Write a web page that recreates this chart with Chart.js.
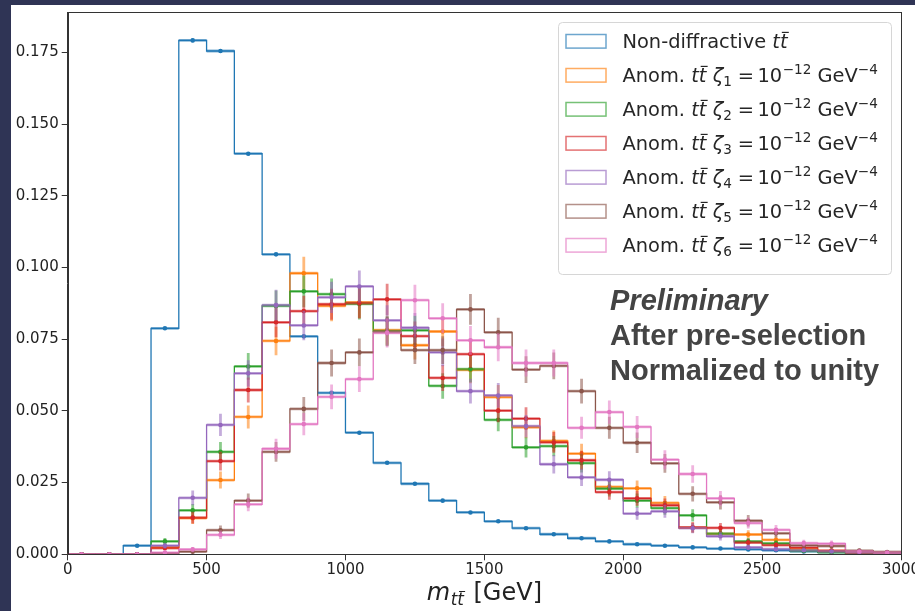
<!DOCTYPE html>
<html>
<head>
<meta charset="utf-8">
<script src="https://cdn.jsdelivr.net/npm/chart.js@4.4.1/dist/chart.umd.min.js"></script>
<style>
  html, body { margin: 0; padding: 0; background: #2f3455; width: 915px; height: 611px; overflow: hidden; }
  #frame { position: absolute; left: 11px; top: 5px; width: 904px; height: 606px; background: #fff; }
  canvas { display: block; }
</style>
</head>
<body>
<div id="frame"><canvas id="hist" width="904" height="606"></canvas></div>
<script>
// Bin edges of the m_tt histogram [GeV]
const binEdges = [0, 100, 200, 300, 400, 500, 600, 700, 800, 900, 1000, 1100, 1200, 1300, 1400, 1500,
  1600, 1700, 1800, 1900, 2000, 2100, 2200, 2300, 2400, 2500, 2600, 2700, 2800, 2900, 3000];

// Normalized bin contents
const nonDiffractive = [0, 0, 0.0030, 0.0788, 0.1792, 0.1755, 0.1397, 0.1046, 0.0760, 0.0563, 0.0424, 0.0319,
  0.0246, 0.0187, 0.0146, 0.0115, 0.0091, 0.0070, 0.0056, 0.0045, 0.0035, 0.0030, 0.0024, 0.0020, 0.0017,
  0.0014, 0.0010, 0.0008, 0.0007, 0.0003];
const zeta1 = [0, 0, 0, 0.0024, 0.0126, 0.0259, 0.0479, 0.0744, 0.0980, 0.0866, 0.0878, 0.0782, 0.0729, 0.0777,
  0.0643, 0.0548, 0.0443, 0.0395, 0.0351, 0.0235, 0.0230, 0.0179, 0.0093, 0.0071, 0.0069, 0.0050, 0.0018,
  0.0011, 0.0005, 0.0003];
const zeta2 = [0, 0, 0, 0.0045, 0.0153, 0.0357, 0.0655, 0.0866, 0.0917, 0.0907, 0.0873, 0.0778, 0.0781, 0.0587,
  0.0646, 0.0469, 0.0373, 0.0377, 0.0318, 0.0229, 0.0187, 0.0161, 0.0136, 0.0072, 0.0045, 0.0038, 0.0012,
  0.0007, 0.0003, 0.0002];
const zeta3 = [0, 0, 0, 0.0022, 0.0128, 0.0325, 0.0573, 0.0809, 0.0848, 0.0872, 0.0876, 0.0889, 0.0761, 0.0615,
  0.0698, 0.0501, 0.0473, 0.0390, 0.0328, 0.0217, 0.0195, 0.0171, 0.0094, 0.0092, 0.0041, 0.0032, 0.0023,
  0.0013, 0.0006, 0.0003];
const zeta4 = [0, 0, 0, 0.0030, 0.0197, 0.0451, 0.0631, 0.0869, 0.0798, 0.0896, 0.0934, 0.0816, 0.0790, 0.0704,
  0.0569, 0.0554, 0.0447, 0.0314, 0.0268, 0.0260, 0.0142, 0.0150, 0.0091, 0.0063, 0.0024, 0.0018, 0.0014,
  0.0010, 0.0007, 0.0003];
const zeta5 = [0, 0, 0, 0.0002, 0.0009, 0.0084, 0.0187, 0.0357, 0.0507, 0.0667, 0.0704, 0.0776, 0.0712, 0.0712,
  0.0854, 0.0774, 0.0644, 0.0657, 0.0569, 0.0441, 0.0389, 0.0317, 0.0211, 0.0181, 0.0117, 0.0073, 0.0031,
  0.0029, 0.0013, 0.0008];
const zeta6 = [0, 0, 0, 0.0006, 0.0017, 0.0068, 0.0174, 0.0368, 0.0454, 0.0549, 0.0611, 0.0772, 0.0886, 0.0823,
  0.0746, 0.0722, 0.0667, 0.0667, 0.0441, 0.0496, 0.0444, 0.0330, 0.0280, 0.0195, 0.0109, 0.0085, 0.0039,
  0.0037, 0.0010, 0.0006];

// Unweighted event counts per sample (statistical error = sqrt(v / N))
const sampleEvents = [400000, 3000, 3000, 3000, 3000, 3000, 3000];

const seriesLabels = ['Non-diffractive tt̄', 'Anom. tt̄ ζ1 = 10^-12 GeV^-4', 'Anom. tt̄ ζ2 = 10^-12 GeV^-4',
  'Anom. tt̄ ζ3 = 10^-12 GeV^-4', 'Anom. tt̄ ζ4 = 10^-12 GeV^-4', 'Anom. tt̄ ζ5 = 10^-12 GeV^-4',
  'Anom. tt̄ ζ6 = 10^-12 GeV^-4'];
const zetaIndex = [0, 1, 2, 3, 4, 5, 6];

const yTicks = [0, 0.025, 0.05, 0.075, 0.1, 0.125, 0.15, 0.175];
const xTicks = [0, 500, 1000, 1500, 2000, 2500, 3000];

const annotationLines = ['Preliminary', 'After pre-selection', 'Normalized to unity'];

const seriesValues = [nonDiffractive, zeta1, zeta2, zeta3, zeta4, zeta5, zeta6];
const seriesColors = ['#1f77b4', '#ff7f0e', '#2ca02c', '#d62728', '#9467bd', '#8c564b', '#e377c2'];

const axisColor = '#333333';
const mathFont = '"DejaVu Sans"';

// histtype="step" outline
function stepPoints(values) {
  const pts = [{ x: binEdges[0], y: 0 }];
  values.forEach((v, i) => {
    pts.push({ x: binEdges[i], y: v });
    pts.push({ x: binEdges[i + 1], y: v });
  });
  pts.push({ x: binEdges[binEdges.length - 1], y: 0 });
  return pts;
}

function hexAlpha(hex, a) {
  const n = parseInt(hex.slice(1), 16);
  return `rgba(${(n >> 16) & 255}, ${(n >> 8) & 255}, ${n & 255}, ${a})`;
}

// Draw a run of text pieces (mathtext-like)
function drawMath(ctx, x, y, segs, size, dry) {
  let cx = x;
  segs.forEach(s => {
    const fs = size * (s.scale || 1);
    ctx.font = `${s.italic ? 'italic ' : ''}${fs}px ${mathFont}`;
    cx += (s.pre || 0) * size;
    const w = ctx.measureText(s.text).width;
    if (!dry) {
      const yy = y + (s.dy || 0) * size;
      ctx.fillText(s.text, cx, yy);
      if (s.bar) {
        ctx.save();
        ctx.strokeStyle = ctx.fillStyle;
        ctx.lineWidth = Math.max(1, fs * 0.06);
        ctx.beginPath();
        ctx.moveTo(cx + fs * 0.10, yy - fs * 0.82);
        ctx.lineTo(cx + fs * 0.46, yy - fs * 0.82);
        ctx.stroke();
        ctx.restore();
      }
    }
    cx += w + (s.post || 0) * size;
  });
  return cx - x;
}

function labelSegments(i) {
  if (zetaIndex[i] === 0) {
    return [{ text: 'Non-diffractive ' }, { text: 't', italic: true }, { text: 't', italic: true, bar: true }];
  }
  return [
    { text: 'Anom. ' }, { text: 't', italic: true }, { text: 't', italic: true, bar: true },
    { text: 'ζ', italic: true, pre: 0.33 }, { text: String(zetaIndex[i]), scale: 0.7, dy: 0.2 },
    { text: '=', pre: 0.3, post: 0.18 }, { text: '10' },
    { text: '−12', scale: 0.7, dy: -0.42, pre: 0.03 }, { text: ' GeV' }, { text: '−4', scale: 0.7, dy: -0.42 }
  ];
}

const errorBarPlugin = {
  id: 'errorBars',
  afterDatasetsDraw(chart) {
    const { ctx, chartArea, scales: { x, y } } = chart;
    ctx.save();
    ctx.beginPath();
    ctx.rect(chartArea.left, chartArea.top, chartArea.right - chartArea.left, chartArea.bottom - chartArea.top);
    ctx.clip();
    seriesValues.forEach((values, s) => {
      const col = seriesColors[s];
      values.forEach((v, j) => {
        const err = Math.sqrt(v / sampleEvents[s]);
        const xc = x.getPixelForValue((binEdges[j] + binEdges[j + 1]) / 2);
        const yc = y.getPixelForValue(v);
        ctx.strokeStyle = hexAlpha(col, 0.55);
        ctx.lineWidth = 2.8;
        ctx.beginPath();
        ctx.moveTo(x.getPixelForValue(binEdges[j]), yc);
        ctx.lineTo(x.getPixelForValue(binEdges[j + 1]), yc);
        ctx.moveTo(xc, y.getPixelForValue(v - err));
        ctx.lineTo(xc, y.getPixelForValue(v + err));
        ctx.stroke();
        ctx.fillStyle = col;
        ctx.beginPath();
        ctx.arc(xc, yc, 2.3, 0, Math.PI * 2);
        ctx.fill();
      });
    });
    ctx.restore();
  }
};

const decorPlugin = {
  id: 'decor',
  afterDraw(chart) {
    const { ctx, chartArea: a } = chart;
    ctx.save();
    // frame
    ctx.strokeStyle = axisColor;
    ctx.lineWidth = 1;
    ctx.strokeRect(Math.round(a.left) + 0.5, Math.round(a.top) + 0.5,
      Math.round(a.right - a.left), Math.round(a.bottom - a.top));

    // legend
    ctx.fillStyle = 'rgba(255,255,255,0.85)';
    ctx.strokeStyle = '#d6d6d6';
    ctx.beginPath();
    ctx.roundRect(547.5, 17.5, 333, 252, 4);
    ctx.fill();
    ctx.stroke();
    const size = 19.4;
    seriesLabels.forEach((lab, i) => {
      const cy = 36.3 + i * 34;
      ctx.strokeStyle = hexAlpha(seriesColors[i], 0.65);
      ctx.lineWidth = 1.5;
      ctx.strokeRect(555, cy - 6.8, 40, 13.6);
      ctx.fillStyle = '#262626';
      ctx.textBaseline = 'alphabetic';
      ctx.textAlign = 'left';
      drawMath(ctx, 611.5, cy + 7, labelSegments(i), size);
    });

    // annotation text
    ctx.fillStyle = '#444444';
    annotationLines.forEach((t, i) => {
      ctx.font = `${i === 0 ? 'italic ' : ''}bold 29px "Liberation Sans", Arial, sans-serif`;
      ctx.fillText(t, 599, 305 + i * 35);
    });

    // x axis title
    ctx.fillStyle = '#222';
    const xs = [{ text: 'm', italic: true }, { text: 't', italic: true, scale: 0.7, dy: 0.22, pre: 0.03 },
      { text: 't', italic: true, bar: true, scale: 0.7, dy: 0.22 }, { text: ' [GeV]', pre: 0.08 }];
    const w = drawMath(ctx, 0, 0, xs, 24, true);
    drawMath(ctx, (a.left + a.right) / 2 - w / 2, 595, xs, 24);
    ctx.restore();
  }
};

const datasets = seriesValues.map((vals, i) => ({
  label: seriesLabels[i],
  data: stepPoints(vals),
  borderColor: seriesColors[i],
  borderWidth: 1.3,
  pointRadius: 0,
  fill: false,
  tension: 0,
  order: 10 - i
}));

new Chart(document.getElementById('hist'), {
  type: 'line',
  data: { datasets },
  options: {
    responsive: false,
    animation: false,
    devicePixelRatio: 1,
    events: [],
    layout: { padding: { left: 0, top: 7.3, right: 14, bottom: 0 } },
    plugins: { legend: { display: false }, tooltip: { enabled: false } },
    scales: {
      x: {
        type: 'linear',
        min: 0,
        max: 3000,
        afterFit(scale) {
          scale.height = 56.7;
          scale.paddingLeft = 0;
          scale.paddingRight = 0;
        },
        afterBuildTicks(scale) { scale.ticks = xTicks.map(v => ({ value: v })); },
        ticks: { color: '#222', font: { family: 'DejaVu Sans', size: 15 }, padding: 1, callback: v => String(v) },
        grid: { drawOnChartArea: false, drawTicks: true, tickLength: 6, color: axisColor },
        border: { display: true, color: axisColor }
      },
      y: {
        type: 'linear',
        min: 0,
        max: 0.189,
        afterFit(scale) {
          scale.width = 56.7;
          scale.paddingTop = 0;
          scale.paddingBottom = 0;
        },
        afterBuildTicks(scale) { scale.ticks = yTicks.map(v => ({ value: v })); },
        ticks: { color: '#222', font: { family: 'DejaVu Sans', size: 15 }, padding: 3, callback: v => v.toFixed(3) },
        grid: { drawOnChartArea: false, drawTicks: true, tickLength: 6, color: axisColor },
        border: { display: true, color: axisColor }
      }
    }
  },
  plugins: [errorBarPlugin, decorPlugin]
});
</script>
</body>
</html>
